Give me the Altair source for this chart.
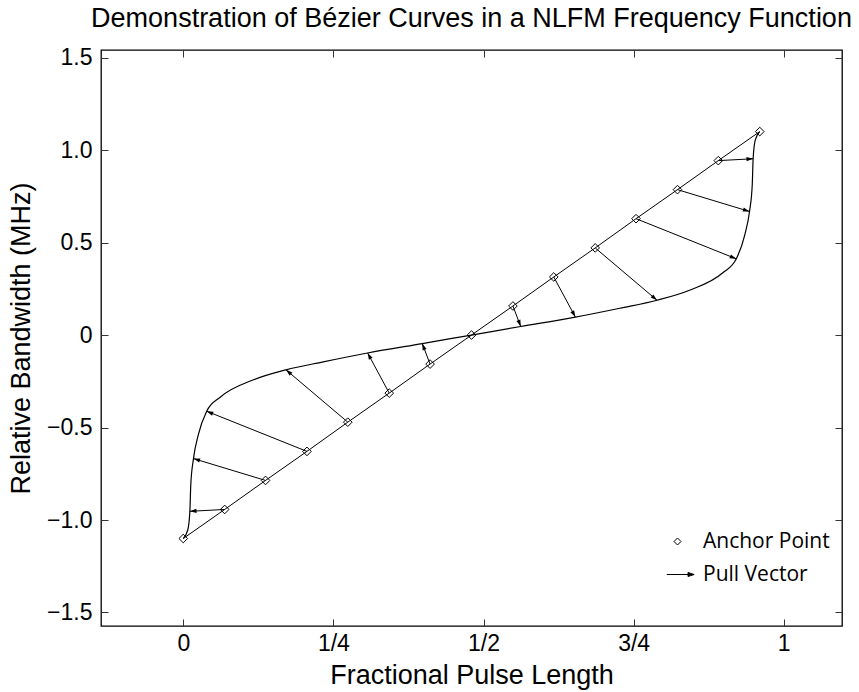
import math
import altair as alt
import pandas as pd

# ---------------- data ----------------
x_tick_values = [0, 0.25, 0.5, 0.75, 1]
x_tick_labels = ["0", "1/4", "1/2", "3/4", "1"]
y_tick_values = [-1.5, -1.0, -0.5, 0, 0.5, 1.0, 1.5]
y_tick_labels = ["\u22121.5", "\u22121.0", "\u22120.5", "0", "0.5", "1.0", "1.5"]

anchor_x = [0.000, 0.069, 0.137, 0.206, 0.274, 0.343, 0.411, 0.480,
            0.549, 0.617, 0.686, 0.754, 0.823, 0.891, 0.960]
anchor_y = [-1.100, -0.943, -0.786, -0.629, -0.471, -0.314, -0.157, 0.000,
            0.157, 0.314, 0.471, 0.629, 0.786, 0.943, 1.100]

pull_index = [1, 2, 3, 4, 5, 6, 8, 9, 10, 11, 12, 13]
head_x = [0.011, 0.017, 0.039, 0.171, 0.307, 0.398,
          0.562, 0.653, 0.789, 0.921, 0.943, 0.949]
head_y = [-0.953, -0.668, -0.412, -0.188, -0.097, -0.046,
          0.046, 0.097, 0.188, 0.412, 0.668, 0.953]

curve_x = [0.000, 0.0075, 0.011, 0.0125, 0.017, 0.025, 0.039, 0.062, 0.117,
           0.171, 0.233, 0.307, 0.398, 0.480, 0.562, 0.653, 0.727, 0.789,
           0.843, 0.898, 0.921, 0.935, 0.943, 0.9475, 0.949, 0.9525, 0.960]
curve_y = [-1.100, -1.054, -0.953, -0.810, -0.668, -0.540, -0.412, -0.335, -0.242,
           -0.188, -0.145, -0.097, -0.046, 0.000, 0.046, 0.097, 0.145, 0.188,
           0.242, 0.335, 0.412, 0.540, 0.668, 0.810, 0.953, 1.054, 1.100]

legend_labels = ["Anchor Point", "Pull Vector"]

# ---------------- layout ----------------
X_DOMAIN = [-0.137, 1.097]
Y_DOMAIN = [-1.573, 1.541]
W, H = 741, 576
FONT = "Liberation Sans"
LEG_FONT = "Open Sans"

sx = W / (X_DOMAIN[1] - X_DOMAIN[0])
sy = H / (Y_DOMAIN[1] - Y_DOMAIN[0])

anchor_df = pd.DataFrame({"x": anchor_x, "y": anchor_y, "kind": legend_labels[0]})
curve_df = pd.DataFrame({"x": curve_x, "y": curve_y, "order": list(range(len(curve_x)))})

rows = []
for i, hx, hy in zip(pull_index, head_x, head_y):
    ax, ay = anchor_x[i], anchor_y[i]
    ang = math.degrees(math.atan2(-(hy - ay) * sy, (hx - ax) * sx)) % 360
    rows.append({"x": ax, "y": ay, "x2": hx, "y2": hy, "angle": ang})
arrow_df = pd.DataFrame(rows)


def label_expr(values, labels):
    expr = "''"
    for v, l in reversed(list(zip(values, labels))):
        expr = f"abs(datum.value - ({v})) < 1e-6 ? '{l}' : ({expr})"
    return expr


def tick_axis(orient, values, offset):
    return alt.Axis(orient=orient, offset=offset, values=values, labels=False,
                    ticks=True, tickSize=7, tickColor="#333333", tickWidth=1,
                    domain=False, grid=False)


x_label_axis = alt.Axis(orient="bottom", values=x_tick_values,
                        labelExpr=label_expr(x_tick_values, x_tick_labels),
                        ticks=False, domain=False, grid=False,
                        labelFont=FONT, labelFontSize=23, labelColor="black", labelPadding=6,
                        titleFont=FONT, titleFontSize=27, titleFontWeight="normal",
                        titleColor="black", titlePadding=7)
y_label_axis = alt.Axis(orient="left", values=y_tick_values,
                        labelExpr=label_expr(y_tick_values, y_tick_labels),
                        ticks=False, domain=False, grid=False,
                        labelFont=FONT, labelFontSize=23, labelColor="black", labelPadding=9,
                        titleFont=FONT, titleFontSize=27, titleFontWeight="normal",
                        titleColor="black", titlePadding=11)


def X(field, axis, title=None):
    return alt.X(field, type="quantitative", axis=axis, title=title,
                 scale=alt.Scale(domain=X_DOMAIN, nice=False, zero=False))


def Y(field, axis, title=None):
    return alt.Y(field, type="quantitative", axis=axis, title=title,
                 scale=alt.Scale(domain=Y_DOMAIN, nice=False, zero=False))


anchor_line = alt.Chart(anchor_df).mark_line(color="black", strokeWidth=1).encode(
    x=X("x", x_label_axis, "Fractional Pulse Length"),
    y=Y("y", y_label_axis, "Relative Bandwidth (MHz)"),
)

curve = alt.Chart(curve_df).mark_line(color="black", strokeWidth=1.2, interpolate="monotone").encode(
    x=X("x", tick_axis("top", x_tick_values, -H)),
    y=Y("y", tick_axis("right", y_tick_values, -W)),
    order="order:Q",
)

arrows = alt.Chart(arrow_df).mark_rule(color="black", strokeWidth=1).encode(
    x=X("x", tick_axis("bottom", x_tick_values, -H)),
    y=Y("y", tick_axis("left", y_tick_values, -W)),
    x2="x2:Q",
    y2="y2:Q",
)

heads = alt.Chart(arrow_df).mark_point(
    shape="M0,0L-1,-0.32L-1,0.32Z", filled=True, color="black", size=175, opacity=1
).encode(
    x=X("x2", None),
    y=Y("y2", None),
    angle=alt.Angle("angle:Q", scale=None),
)

arrow_path = "M-3.06,0L4.74,0M4.74,0L3.0,-0.57L3.0,0.57Z"
legend = alt.Legend(orient="none", legendX=566, legendY=481, title=None,
                    labelFont=LEG_FONT, labelFontSize=21, labelColor="black",
                    labelOffset=15, symbolSize=49, rowPadding=11,
                    symbolStrokeColor="black", symbolStrokeWidth=1)

anchors = alt.Chart(anchor_df).mark_point(strokeWidth=1, size=75, opacity=1).encode(
    x=X("x", None),
    y=Y("y", None),
    shape=alt.Shape("kind:N", legend=legend,
                    scale=alt.Scale(domain=legend_labels, range=["diamond", arrow_path])),
    fill=alt.Fill("kind:N", legend=legend,
                  scale=alt.Scale(domain=legend_labels, range=["transparent", "black"])),
    stroke=alt.Stroke("kind:N", legend=legend,
                      scale=alt.Scale(domain=legend_labels, range=["black", "black"])),
)

chart = alt.layer(anchor_line, curve, arrows, heads, anchors).resolve_axis(
    x="independent", y="independent"
).properties(
    width=W, height=H, autosize="none",
    padding={"left": 101, "top": 50, "right": 859 - 101 - W, "bottom": 692 - 50 - H},
    title=alt.TitleParams("Demonstration of B\u00e9zier Curves in a NLFM Frequency Function",
                          font=FONT, fontSize=27, fontWeight="normal", color="black",
                          anchor="middle", frame="group", offset=14),
).configure_view(stroke="black", strokeWidth=1.3)

chart.save("out.html", embed_options={"renderer": "svg", "actions": False})
